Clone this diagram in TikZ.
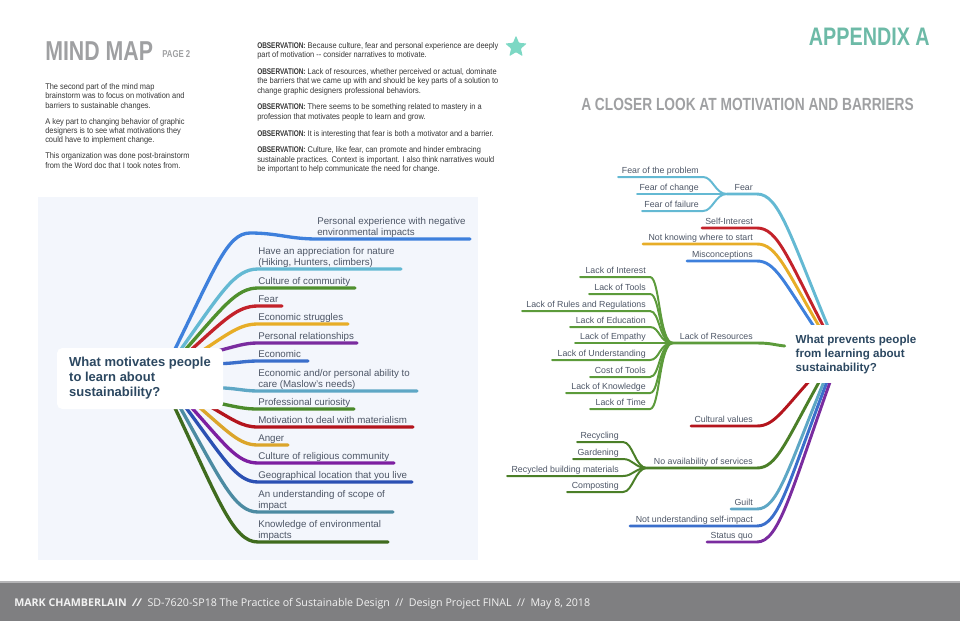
\documentclass[tikz,border=0pt]{standalone}
\usepackage{fontspec}
\setmainfont{Liberation Sans}
\newfontfamily\narrowfont[FakeStretch=0.9]{Liberation Sans}
\newfontfamily\condfont[FakeStretch=0.78]{Liberation Sans}
\newfontfamily\footfont{Open Sans}
\usepackage{tikz}
\usetikzlibrary{shapes.geometric, calc}

\definecolor{panelbg}{HTML}{F3F6FC}
\definecolor{headgray}{HTML}{9FA0A2}
\definecolor{apxteal}{HTML}{6DBAA7}
\definecolor{startea}{HTML}{7DD8C4}
\definecolor{bodytext}{HTML}{353535}
\definecolor{mtext}{HTML}{4D5666}
\definecolor{ctext}{HTML}{2C4861}
\definecolor{footbg}{HTML}{7F7F81}
\definecolor{footline}{HTML}{B5B5B7}
\definecolor{cA}{HTML}{3E80DC}
\definecolor{cB}{HTML}{64B9D3}
\definecolor{cC}{HTML}{4F902E}
\definecolor{cD}{HTML}{C3222A}
\definecolor{cE}{HTML}{E7AD27}
\definecolor{cF}{HTML}{7A2C9F}
\definecolor{cG}{HTML}{3B6FCB}
\definecolor{cH}{HTML}{5EA7C5}
\definecolor{cI}{HTML}{4B8A2B}
\definecolor{cJ}{HTML}{B4151D}
\definecolor{cK}{HTML}{DBA52B}
\definecolor{cL}{HTML}{7D1FA1}
\definecolor{cM}{HTML}{2B50B3}
\definecolor{cN}{HTML}{4C8BA2}
\definecolor{cO}{HTML}{3F6B1E}
\definecolor{lgreen}{HTML}{5C9B3B}
\definecolor{sgreen}{HTML}{4B7F28}

\pgfdeclarelayer{back}
\pgfdeclarelayer{lines}
\pgfsetlayers{back,lines,main}

\tikzset{
  branch/.style={draw=#1, line width=2.5pt, line cap=round},
  rbranch/.style={draw=#1, line width=2.2pt, line cap=round},
  subbranch/.style={draw=#1, line width=1.5pt, line cap=round},
  mlabel/.style={inner sep=0pt, align=left, text=mtext,
    font=\fontsize{7.3pt}{8.25pt}\selectfont, execute at end node=\strut},
  rlabel/.style={inner sep=0pt, align=right, text=mtext,
    font=\fontsize{6.6pt}{8pt}\selectfont, execute at end node=\strut},
  bodytxt/.style={inner sep=0pt, align=left, text=bodytext,
    font=\narrowfont\fontsize{6.2pt}{7.1pt}\selectfont},
}

\begin{document}
\begin{tikzpicture}[x=0.75pt, y=-0.75pt]
  \useasboundingbox (0,0) rectangle (960,621);

  % headings
  \node[anchor=base west, inner sep=0, text=headgray,
    font=\condfont\bfseries\fontsize{20.5pt}{20.5pt}\selectfont] (title) at (45,60) {MIND MAP};
  \node[anchor=base west, inner sep=0, text=headgray,
    font=\condfont\bfseries\fontsize{7.5pt}{7.5pt}\selectfont] (page) at (162,57) {PAGE 2};
  \node[anchor=base east, inner sep=0, text=apxteal,
    font=\condfont\bfseries\fontsize{19pt}{19pt}\selectfont] (apx) at (930,45) {APPENDIX A};
  \node[anchor=base west, inner sep=0, text=headgray,
    font=\condfont\bfseries\fontsize{13.2pt}{13.2pt}\selectfont] (closer) at (581,110)
    {A CLOSER LOOK AT MOTIVATION AND BARRIERS};

  \node[bodytxt, anchor=north west] (intro) at (45,83)
    {The second part of the mind map\\brainstorm was to focus on motivation and\\barriers to sustainable changes.\\[4.8pt]
     A key part to changing behavior of graphic\\designers is to see what motivations they\\could have to implement change.\\[4.8pt]
     This organization was done post-brainstorm\\from the Word doc that I took notes from.};

  \node[bodytxt, anchor=north west] (obs) at (257,42)
    {{\condfont\bfseries OBSERVATION:} Because culture, fear and personal experience are deeply\\part of motivation -- consider narratives to motivate.\\[5.4pt]
     {\condfont\bfseries OBSERVATION:} Lack of resources, whether perceived or actual, dominate\\the barriers that we came up with and should be key parts of a solution to\\change graphic designers professional behaviors.\\[5.4pt]
     {\condfont\bfseries OBSERVATION:} There seems to be something related to mastery in a\\profession that motivates people to learn and grow.\\[5.4pt]
     {\condfont\bfseries OBSERVATION:} It is interesting that fear is both a motivator and a barrier.\\[5.4pt]
     {\condfont\bfseries OBSERVATION:} Culture, like fear, can promote and hinder embracing\\sustainable practices. Context is important. I also think narratives would\\be important to help communicate the need for change.};

  \node[star, star points=5, star point ratio=2.2, fill=startea, inner sep=0,
    minimum size=17pt, rounded corners=0.6pt] (star) at (516,47) {};

  % left mind map
  \begin{pgfonlayer}{back}
    \fill[panelbg] (38,197) rectangle (478,560);
  \end{pgfonlayer}

  \node[fill=white, rounded corners=4pt, minimum width=124.5pt, minimum height=45.75pt,
    inner sep=0, align=left, text=ctext, font=\bfseries\fontsize{9.75pt}{11.25pt}\selectfont]
    (mot) at (140,378.5) {What motivates people\\to learn about\\sustainability?};

  \node[mlabel, anchor=south west] (m1) at (317,239)
    {Personal experience with negative\\environmental impacts};
  \coordinate (k1) at (250,233);
  \coordinate (mu1) at (470,239);
  \begin{pgfonlayer}{lines}
    \draw[branch=cA] ($(mot.north west)+(116,6)$) .. controls +(42,-85) and +(-23,0) .. (k1)
      .. controls +(28,0) and +(-28,0) .. (m1.south west) -- (mu1);
  \end{pgfonlayer}

  \foreach \i/\ye/\xe/\col/\anc/\dx/\dy/\ax/\ay/\bx/\txt in {
    2/269/401/cB/north west/121/6/43/-60/24/{Have an appreciation for nature\\(Hiking, Hunters, climbers)},
    3/288/355/cC/north west/125/6/41/-46/22/{Culture of community},
    4/306/282/cD/north west/130/6/38/-34/21/{Fear},
    5/324/348/cE/north west/141/6/32/-21/18/{Economic struggles},
    6/343/357/cF/north west/158/4/23/-6/13/{Personal relationships},
    7/361/308/cG/north west/158/16/20/0/15/{Economic},
    8/391/417/cH/north west/158/40/20/0/15/{Economic and/or personal ability to\\care (Maslow’s needs)},
    9/409/354/cI/south west/158/-7/23/5/13/{Professional curiosity},
    10/427/413/cJ/south west/148/-6/29/17/16/{Motivation to deal with materialism},
    11/445/288/cK/south west/138/-6/34/29/19/{Anger},
    12/463/394/cL/south west/131/-6/38/42/21/{Culture of religious community},
    13/482/412/cM/south west/126/-6/41/55/22/{Geographical location that you live},
    14/512/393/cN/south west/121/-6/43/76/24/{An understanding of scope of\\impact},
    15/542/388/cO/south west/116/-6/46/97/25/{Knowledge of environmental\\impacts}}{
    \node[mlabel, anchor=south west] (m\i) at (258,\ye) {\txt};
    \coordinate (mu\i) at (\xe,\ye);
    \begin{pgfonlayer}{lines}
      \draw[branch=\col] ($(mot.\anc)+(\dx,\dy)$) .. controls +(\ax,\ay) and +(-\bx,0) .. (m\i.south west) -- (mu\i);
    \end{pgfonlayer}
  }

  % right mind map
  \node[fill=white, minimum width=103.5pt, minimum height=43.5pt, inner sep=0,
    align=left, text=ctext, font=\bfseries\fontsize{8.7pt}{10.5pt}\selectfont]
    (prev) at (856,354) {What prevents people\\from learning about\\sustainability?};

  \foreach \i/\ye/\xs/\col/\anc/\dx/\dy/\ax/\bx/\by/\txt in {
    1/194/727/cB/north west/43/6/22/-40/-96/{Fear},
    2/228/702/cD/north west/39/6/21/-38/-72/{Self-Interest},
    3/244/643/cE/north west/35/6/20/-36/-61/{Not knowing where to start},
    4/261/687/cA/north west/30/6/18/-33/-49/{Misconceptions},
    5/426/691/cJ/south west/26/-6/17/-31/34/{Cultural values},
    6/468/647/sgreen/south west/35/-6/20/-36/64/{No availability of services},
    7/509/731/cH/south west/39/-6/21/-38/92/{Guilt},
    8/526/630/cG/south west/42/-6/22/-40/104/{Not understanding self-impact},
    9/542/707/cF/south west/45/-6/22/-41/115/{Status quo}}{
    \node[rlabel, anchor=south east] (r\i) at (753,\ye) {\txt};
    \coordinate (rs\i) at (\xs,\ye);
    \coordinate (re\i) at (757,\ye);
    \begin{pgfonlayer}{lines}
      \draw[rbranch=\col] (rs\i) -- (re\i) .. controls +(\ax,0) and +(\bx,\by) .. ($(prev.\anc)+(\dx,\dy)$);
    \end{pgfonlayer}
  }

  % lack of resources
  \node[rlabel, anchor=south east] (lres) at (753,343) {Lack of Resources};
  \coordinate (hlack) at (673,343);
  \coordinate (rlack) at (757,343);
  \begin{pgfonlayer}{lines}
    \draw[rbranch=lgreen] (hlack) -- (rlack) .. controls +(14,0) and +(-10,-1) .. ($(prev.west)+(-2,-8)$);
  \end{pgfonlayer}

  \foreach \y/\xs/\txt [count=\i] in {
    277/580/Lack of Interest, 294/589/Lack of Tools, 311/522/Lack of Rules and Regulations,
    327/570/Lack of Education, 343/575/Lack of Empathy, 360/552/Lack of Understanding,
    377/590/Cost of Tools, 393/566/Lack of Knowledge, 409/590/Lack of Time}{
    \node[rlabel, anchor=south east] (lk\i) at (646,\y) {\txt};
    \coordinate (la\i) at (650,\y);
    \coordinate (lb\i) at (\xs,\y);
    \draw[subbranch=lgreen] (hlack) .. controls +(-14,0) and +(10,0) .. (la\i) -- (lb\i);
  }

  \foreach \y/\xs/\txt [count=\i] in {
    177/618/Fear of the problem, 194/637/Fear of change, 211/642/Fear of failure}{
    \node[rlabel, anchor=south east] (fr\i) at (699,\y) {\txt};
    \coordinate (fa\i) at (703,\y);
    \coordinate (fb\i) at (\xs,\y);
    \draw[subbranch=cB] (rs1) .. controls +(-12,0) and +(10,0) .. (fa\i) -- (fb\i);
  }

  \foreach \y/\xs/\txt [count=\i] in {
    442/577/Recycling, 459/573/Gardening, 476/507/Recycled building materials, 492/567/Composting}{
    \node[rlabel, anchor=south east] (sv\i) at (619,\y) {\txt};
    \coordinate (sa\i) at (623,\y);
    \coordinate (sb\i) at (\xs,\y);
    \draw[subbranch=sgreen] (rs6) .. controls +(-12,0) and +(10,0) .. (sa\i) -- (sb\i);
  }

  % footer
  \fill[footbg] (0,582) rectangle (960,621);
  \draw[footline, line width=0.8pt] (0,582) -- (960,582);
  \node[anchor=base west, inner sep=0, text=white!95!black,
    font=\footfont\fontsize{8pt}{8pt}\selectfont] (foot) at (14,606)
    {{\bfseries MARK CHAMBERLAIN\ \ \textit{//}}\ \ SD-7620-SP18 The Practice of Sustainable Design \ // \ Design Project FINAL \ // \ May 8, 2018};
\end{tikzpicture}
\end{document}
